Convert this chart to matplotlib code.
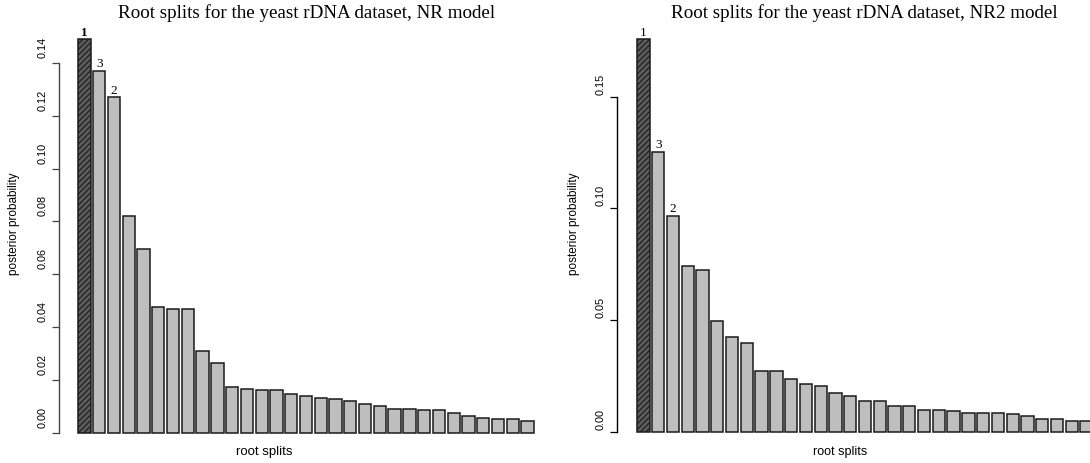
import numpy as np
import matplotlib
matplotlib.use("Agg")
import matplotlib.pyplot as plt

plt.rcParams['hatch.linewidth'] = 0.8

# posterior probabilities of the root splits, sorted
nr_probs = [0.149, 0.1369, 0.127, 0.082, 0.0697, 0.0477, 0.0468, 0.0468,
            0.0309, 0.0262, 0.0172, 0.0165, 0.0163, 0.0160, 0.0146, 0.0137,
            0.0130, 0.0128, 0.0120, 0.0107, 0.0100, 0.0091, 0.0088, 0.0084,
            0.0084, 0.0075, 0.0062, 0.0054, 0.0050, 0.0050, 0.0043]
nr2_probs = [0.1757, 0.1254, 0.0966, 0.0743, 0.0725, 0.0497, 0.0423, 0.0399,
             0.0275, 0.0271, 0.0237, 0.0216, 0.0204, 0.0173, 0.0159, 0.0140,
             0.0137, 0.0117, 0.0115, 0.0100, 0.0098, 0.0094, 0.0085, 0.0083,
             0.0083, 0.0081, 0.0073, 0.0059, 0.0056, 0.0049, 0.0049]
# which split each of the first bars is
split_ids = ["1", "3", "2"]
nr_yticks = [0.00, 0.02, 0.04, 0.06, 0.08, 0.10, 0.12, 0.14]
nr2_yticks = [0.00, 0.05, 0.10, 0.15]

W, H = 1090, 463
fig = plt.figure(figsize=(W / 100, H / 100), dpi=100)

SERIF = ['Liberation Serif', 'DejaVu Serif']
SANS = ['Liberation Sans', 'DejaVu Sans']


def panel(probs, yticks, title, axis_px, bar0_px, right_px, zero_px, px_per_unit,
          title_x, xlab_x, xlab_size, ylab_x, lab_dx, lab_dy, axcol, first_bold):
    top_px, bot_px = 20, 445
    unit = 14.77 / 1.2  # pixels per bar-slot unit (R barplot, space=0.2)
    ax = fig.add_axes([axis_px / W, 1 - bot_px / H,
                       (right_px - axis_px) / W, (bot_px - top_px) / H])
    x0 = 0.2 - (bar0_px - axis_px) / unit
    x1 = 0.2 + (right_px - bar0_px) / unit
    ax.set_xlim(x0, x1)
    ax.set_ylim(-(bot_px - zero_px) / px_per_unit, (zero_px - top_px) / px_per_unit)

    xs = 0.7 + 1.2 * np.arange(len(probs))
    bars = ax.bar(xs, probs, width=1.0, color='#bebebe', edgecolor='#1a1a1a',
                  linewidth=1.1)
    bars[0].set_facecolor('#5c5c5c')
    bars[0].set_hatch('//////')

    for i, (x, v, lab) in enumerate(zip(xs, probs, split_ids)):
        wt = 'bold' if (first_bold and i == 0) else 'normal'
        ax.annotate(lab, (x, v), xytext=(0, 0.5), textcoords='offset points',
                    ha='center', va='bottom', fontsize=9.5, family=SERIF,
                    fontweight=wt)

    for s in ['top', 'right', 'bottom']:
        ax.spines[s].set_visible(False)
    ax.spines['left'].set_bounds(yticks[0], yticks[-1])
    ax.spines['left'].set_color(axcol)
    ax.spines['left'].set_linewidth(1.0)
    ax.set_xticks([])
    ax.set_yticks(yticks)
    ax.set_yticklabels([])
    ax.tick_params(axis='y', length=5.2, width=0.9, color=axcol)
    # rotated tick labels sit just above their ticks
    for t in yticks:
        ax.annotate("%.2f" % t, xy=(0, t), xycoords=('axes fraction', 'data'),
                    xytext=(lab_dx, lab_dy), textcoords='offset pixels',
                    rotation=90, ha='center', va='bottom', fontsize=7.8,
                    family=SANS)

    fig.text(title_x / W, 1 - 13 / H, title, ha='center', va='center',
             fontsize=13.7, family=SERIF)
    fig.text(xlab_x / W, 1 - 452 / H, "root splits", ha='center', va='center',
             fontsize=xlab_size, family=SANS)
    fig.text(ylab_x / W, 1 - 224 / H, "posterior probability", ha='center',
             va='center', rotation=90, fontsize=8.5, family=SANS)
    return ax


panel(nr_probs, nr_yticks, "Root splits for the yeast rDNA dataset, NR model",
      axis_px=59.3, bar0_px=78.3, right_px=545, zero_px=432.6, px_per_unit=2640,
      title_x=307, xlab_x=264, xlab_size=9.5, ylab_x=14, lab_dx=-17, lab_dy=5,
      axcol='#444444', first_bold=True)
panel(nr2_probs, nr2_yticks, "Root splits for the yeast rDNA dataset, NR2 model",
      axis_px=617, bar0_px=637.3, right_px=1110, zero_px=432, px_per_unit=2235,
      title_x=864, xlab_x=840, xlab_size=9, ylab_x=574, lab_dx=-16, lab_dy=2,
      axcol='black', first_bold=False)

fig.savefig("out.png", dpi=100)
